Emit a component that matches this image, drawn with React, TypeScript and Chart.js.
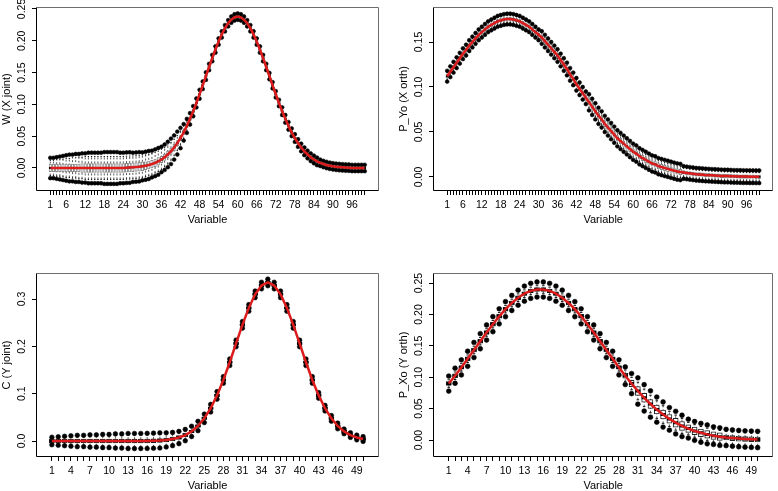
import React, { useEffect, useRef } from "react";
import { Chart, registerables } from "chart.js";

Chart.register(...registerables);

const FONT = "'Liberation Sans', Arial, Helvetica, sans-serif";

// ---------- Panel 1: W (X joint), 100 variables ----------
const wTrue = [
  0, 0, 0, 0, 0, 0, 0, 0, 0, 0,
  0, 0, 0, 0, 0, 0, 0, 0, 0, 0,
  0, 0, 0, 0, 0.0005, 0.0007, 0.001, 0.0014, 0.0019, 0.0026,
  0.0035, 0.0047, 0.0062, 0.0081, 0.0104, 0.0134, 0.0169, 0.0212, 0.0262, 0.0322,
  0.0392, 0.0471, 0.0561, 0.0662, 0.0773, 0.0893, 0.1022, 0.1159, 0.13, 0.1444,
  0.1588, 0.1728, 0.1863, 0.1988, 0.21, 0.2197, 0.2275, 0.2333, 0.2368, 0.238,
  0.2368, 0.2333, 0.2275, 0.2197, 0.21, 0.1988, 0.1863, 0.1728, 0.1588, 0.1444,
  0.13, 0.1159, 0.1022, 0.0893, 0.0773, 0.0662, 0.0561, 0.0471, 0.0392, 0.0322,
  0.0262, 0.0212, 0.0169, 0.0134, 0.0104, 0.0081, 0.0062, 0.0047, 0.0035, 0.0026,
  0.0019, 0.0014, 0.001, 0.0007, 0.0005, 0, 0, 0, 0, 0,
];
const wBox = [
  0.006, 0.006, 0.006, 0.006, 0.006, 0.006, 0.006, 0.006, 0.006, 0.006,
  0.007, 0.007, 0.007, 0.007, 0.007, 0.007, 0.007, 0.007, 0.007, 0.007,
  0.007, 0.007, 0.007, 0.007, 0.007, 0.007, 0.007, 0.007, 0.007, 0.007,
  0.006, 0.006, 0.006, 0.006, 0.006, 0.005, 0.005, 0.005, 0.005, 0.005,
  0.004, 0.004, 0.004, 0.003, 0.003, 0.003, 0.002, 0.002, 0.002, 0.002,
  0.002, 0.002, 0.002, 0.002, 0.002, 0.002, 0.002, 0.002, 0.002, 0.002,
  0.002, 0.002, 0.002, 0.002, 0.002, 0.002, 0.002, 0.002, 0.002, 0.002,
  0.002, 0.002, 0.002, 0.002, 0.002, 0.002, 0.002, 0.002, 0.002, 0.002,
  0.002, 0.002, 0.002, 0.002, 0.002, 0.002, 0.002, 0.002, 0.002, 0.002,
  0.002, 0.002, 0.002, 0.002, 0.002, 0.002, 0.002, 0.002, 0.002, 0.002,
];
const wWhisk = [
  0.012, 0.012, 0.013, 0.013, 0.014, 0.015, 0.015, 0.016, 0.016, 0.017,
  0.017, 0.018, 0.018, 0.018, 0.018, 0.018, 0.018, 0.018, 0.018, 0.018,
  0.018, 0.018, 0.018, 0.018, 0.018, 0.018, 0.018, 0.018, 0.018, 0.018,
  0.017, 0.017, 0.017, 0.016, 0.016, 0.016, 0.015, 0.015, 0.014, 0.013,
  0.012, 0.011, 0.01, 0.008, 0.007, 0.006, 0.005, 0.004, 0.004, 0.004,
  0.004, 0.004, 0.004, 0.004, 0.004, 0.004, 0.004, 0.004, 0.004, 0.004,
  0.004, 0.004, 0.004, 0.004, 0.004, 0.004, 0.004, 0.004, 0.004, 0.004,
  0.004, 0.004, 0.004, 0.004, 0.004, 0.004, 0.004, 0.004, 0.004, 0.004,
  0.004, 0.004, 0.004, 0.004, 0.004, 0.004, 0.004, 0.004, 0.004, 0.004,
  0.004, 0.004, 0.004, 0.004, 0.004, 0.004, 0.004, 0.004, 0.004, 0.004,
];
const wOut = [
  0.016, 0.016, 0.017, 0.018, 0.019, 0.02, 0.021, 0.021, 0.022, 0.022,
  0.023, 0.023, 0.024, 0.024, 0.024, 0.024, 0.024, 0.025, 0.025, 0.025,
  0.025, 0.025, 0.024, 0.024, 0.024, 0.024, 0.023, 0.023, 0.023, 0.022,
  0.022, 0.022, 0.021, 0.021, 0.021, 0.02, 0.02, 0.02, 0.02, 0.019,
  0.018, 0.016, 0.013, 0.011, 0.009, 0.008, 0.007, 0.007, 0.006, 0.006,
  0.005, 0.005, 0.005, 0.005, 0.005, 0.005, 0.005, 0.005, 0.005, 0.005,
  0.005, 0.005, 0.005, 0.005, 0.005, 0.005, 0.005, 0.005, 0.005, 0.005,
  0.005, 0.005, 0.005, 0.006, 0.006, 0.006, 0.006, 0.006, 0.006, 0.006,
  0.006, 0.006, 0.006, 0.006, 0.006, 0.005, 0.005, 0.005, 0.005, 0.005,
  0.005, 0.005, 0.005, 0.005, 0.005, 0.005, 0.005, 0.005, 0.005, 0.005,
];
const wYTicks = [0, 0.05, 0.1, 0.15, 0.2, 0.25];
const wYLabels = ["0.00", "0.05", "0.10", "0.15", "0.20", "0.25"];

// ---------- Panel 2: P_Yo (X orth), 100 variables ----------
const pyTrue = [
  0.112, 0.117, 0.122, 0.127, 0.132, 0.137, 0.141, 0.146, 0.15, 0.154,
  0.158, 0.161, 0.164, 0.167, 0.169, 0.171, 0.173, 0.174, 0.175, 0.1755,
  0.1755, 0.175, 0.174, 0.173, 0.171, 0.169, 0.167, 0.164, 0.161, 0.158,
  0.155, 0.151, 0.147, 0.143, 0.139, 0.135, 0.13, 0.125, 0.12, 0.114,
  0.109, 0.103, 0.098, 0.093, 0.088, 0.083, 0.078, 0.073, 0.068, 0.064,
  0.059, 0.055, 0.051, 0.047, 0.043, 0.04, 0.037, 0.034, 0.031, 0.028,
  0.026, 0.023, 0.021, 0.019, 0.017, 0.015, 0.014, 0.012, 0.011, 0.01,
  0.009, 0.008, 0.007, 0.006, 0.0055, 0.005, 0.0045, 0.004, 0.0035, 0.003,
  0.0028, 0.0025, 0.0022, 0.002, 0.0018, 0.0016, 0.0014, 0.0012, 0.001, 0.001,
  0.0008, 0.0007, 0.0006, 0.0005, 0.0004, 0.0004, 0.0003, 0.0003, 0.0002, 0.0002,
];
const pyBox = [
  0.002, 0.002, 0.002, 0.002, 0.002, 0.002, 0.002, 0.002, 0.002, 0.002,
  0.002, 0.002, 0.002, 0.002, 0.002, 0.002, 0.002, 0.002, 0.002, 0.002,
  0.002, 0.002, 0.002, 0.002, 0.002, 0.002, 0.002, 0.002, 0.002, 0.002,
  0.002, 0.002, 0.002, 0.002, 0.002, 0.002, 0.002, 0.002, 0.002, 0.002,
  0.002, 0.002, 0.002, 0.002, 0.003, 0.003, 0.003, 0.003, 0.003, 0.003,
  0.003, 0.003, 0.003, 0.003, 0.003, 0.003, 0.003, 0.003, 0.003, 0.003,
  0.003, 0.003, 0.003, 0.003, 0.003, 0.003, 0.003, 0.003, 0.003, 0.003,
  0.003, 0.003, 0.003, 0.003, 0.003, 0.002, 0.002, 0.002, 0.002, 0.002,
  0.002, 0.002, 0.002, 0.002, 0.002, 0.002, 0.002, 0.002, 0.002, 0.002,
  0.002, 0.002, 0.002, 0.002, 0.002, 0.002, 0.002, 0.002, 0.002, 0.002,
];
const pyWhisk = [
  0.004, 0.004, 0.004, 0.004, 0.004, 0.004, 0.004, 0.004, 0.004, 0.004,
  0.004, 0.004, 0.004, 0.004, 0.004, 0.004, 0.004, 0.004, 0.004, 0.004,
  0.004, 0.004, 0.004, 0.004, 0.004, 0.004, 0.004, 0.004, 0.004, 0.004,
  0.004, 0.004, 0.004, 0.004, 0.004, 0.004, 0.004, 0.004, 0.004, 0.004,
  0.006, 0.006, 0.006, 0.006, 0.006, 0.006, 0.006, 0.006, 0.006, 0.006,
  0.006, 0.006, 0.006, 0.006, 0.006, 0.006, 0.006, 0.006, 0.006, 0.006,
  0.006, 0.006, 0.006, 0.006, 0.006, 0.006, 0.006, 0.006, 0.006, 0.006,
  0.006, 0.006, 0.006, 0.006, 0.006, 0.005, 0.005, 0.005, 0.005, 0.005,
  0.005, 0.005, 0.005, 0.005, 0.005, 0.005, 0.005, 0.005, 0.005, 0.005,
  0.005, 0.005, 0.005, 0.005, 0.005, 0.005, 0.005, 0.005, 0.005, 0.005,
];
const pyOut = [
  0.006, 0.006, 0.006, 0.006, 0.006, 0.006, 0.006, 0.006, 0.006, 0.006,
  0.006, 0.006, 0.006, 0.006, 0.006, 0.006, 0.006, 0.006, 0.006, 0.006,
  0.006, 0.006, 0.006, 0.006, 0.006, 0.006, 0.006, 0.006, 0.006, 0.006,
  0.007, 0.007, 0.007, 0.007, 0.007, 0.007, 0.007, 0.007, 0.007, 0.007,
  0.007, 0.007, 0.007, 0.007, 0.007, 0.009, 0.009, 0.009, 0.009, 0.009,
  0.009, 0.009, 0.009, 0.009, 0.009, 0.009, 0.009, 0.009, 0.009, 0.009,
  0.009, 0.009, 0.009, 0.009, 0.009, 0.009, 0.009, 0.009, 0.009, 0.009,
  0.009, 0.009, 0.009, 0.009, 0.009, 0.007, 0.007, 0.007, 0.007, 0.007,
  0.007, 0.007, 0.007, 0.007, 0.007, 0.007, 0.007, 0.007, 0.007, 0.007,
  0.007, 0.007, 0.007, 0.007, 0.007, 0.007, 0.007, 0.007, 0.007, 0.007,
];
const pyYTicks = [0, 0.05, 0.1, 0.15];
const pyYLabels = ["0.00", "0.05", "0.10", "0.15"];

// ---------- Panel 3: C (Y joint), 50 variables ----------
const cTrue = [
  0, 0, 0, 0, 0, 0, 0, 0, 0, 0,
  0, 0, 0, 0, 0, 0.0002, 0.0006, 0.0012, 0.0023, 0.0042,
  0.0074, 0.0125, 0.0203, 0.0318, 0.0479, 0.0693, 0.0964, 0.129, 0.1664, 0.2061,
  0.2455, 0.2812, 0.3099, 0.3285, 0.335, 0.3285, 0.3099, 0.2812, 0.2455, 0.2061,
  0.1664, 0.129, 0.0964, 0.0693, 0.0479, 0.0318, 0.0203, 0.0125, 0.0074, 0.0042,
];
const cBox = [
  0.004, 0.004, 0.004, 0.004, 0.004, 0.004, 0.004, 0.004, 0.004, 0.004,
  0.004, 0.004, 0.004, 0.004, 0.004, 0.004, 0.004, 0.004, 0.004, 0.004,
  0.004, 0.004, 0.002, 0.002, 0.002, 0.002, 0.002, 0.002, 0.002, 0.002,
  0.002, 0.002, 0.002, 0.002, 0.002, 0.002, 0.002, 0.002, 0.002, 0.002,
  0.002, 0.002, 0.002, 0.002, 0.002, 0.002, 0.002, 0.002, 0.002, 0.002,
];
const cWhisk = [
  0.005, 0.006, 0.007, 0.008, 0.009, 0.009, 0.01, 0.01, 0.011, 0.011,
  0.012, 0.012, 0.013, 0.013, 0.013, 0.013, 0.013, 0.013, 0.012, 0.011,
  0.01, 0.009, 0.008, 0.007, 0.006, 0.005, 0.005, 0.005, 0.005, 0.005,
  0.005, 0.005, 0.005, 0.005, 0.005, 0.005, 0.005, 0.005, 0.005, 0.005,
  0.004, 0.004, 0.004, 0.004, 0.004, 0.004, 0.004, 0.004, 0.004, 0.004,
];
const cOut = [
  0.008, 0.009, 0.01, 0.011, 0.012, 0.012, 0.013, 0.013, 0.014, 0.014,
  0.015, 0.015, 0.016, 0.016, 0.016, 0.016, 0.016, 0.016, 0.015, 0.014,
  0.013, 0.012, 0.011, 0.01, 0.009, 0.008, 0.008, 0.007, 0.007, 0.007,
  0.007, 0.007, 0.007, 0.007, 0.007, 0.007, 0.007, 0.007, 0.007, 0.007,
  0.007, 0.007, 0.006, 0.006, 0.006, 0.006, 0.005, 0.005, 0.005, 0.005,
];
const cYTicks = [0, 0.1, 0.2, 0.3];
const cYLabels = ["0.0", "0.1", "0.2", "0.3"];

// ---------- Panel 4: P_Xo (Y orth), 50 variables ----------
const xoTrue = [
  0.0899, 0.1024, 0.1157, 0.1294, 0.1434, 0.1574, 0.1712, 0.1845, 0.197, 0.2084,
  0.2183, 0.2267, 0.2331, 0.2375, 0.2397, 0.2397, 0.2375, 0.2331, 0.2267, 0.2183,
  0.2084, 0.197, 0.1845, 0.1712, 0.1574, 0.1434, 0.1294, 0.1157, 0.1024, 0.0899,
  0.0781, 0.0672, 0.0574, 0.0485, 0.0406, 0.0337, 0.0277, 0.0225, 0.0182, 0.0145,
  0.0115, 0.009, 0.007, 0.0054, 0.0041, 0.0031, 0.0023, 0.0017, 0.0013, 0.0009,
];
const xoBox = [
  0.003, 0.003, 0.003, 0.003, 0.003, 0.003, 0.003, 0.003, 0.003, 0.003,
  0.003, 0.003, 0.003, 0.003, 0.003, 0.003, 0.003, 0.003, 0.003, 0.003,
  0.003, 0.003, 0.003, 0.003, 0.003, 0.003, 0.003, 0.003, 0.004, 0.005,
  0.007, 0.007, 0.007, 0.007, 0.007, 0.007, 0.007, 0.007, 0.006, 0.006,
  0.006, 0.006, 0.006, 0.006, 0.004, 0.004, 0.004, 0.004, 0.004, 0.004,
];
const xoWhisk = [
  0.006, 0.006, 0.006, 0.006, 0.006, 0.006, 0.006, 0.006, 0.006, 0.006,
  0.006, 0.006, 0.006, 0.006, 0.006, 0.006, 0.006, 0.006, 0.006, 0.006,
  0.006, 0.006, 0.006, 0.006, 0.006, 0.006, 0.006, 0.006, 0.009, 0.01,
  0.014, 0.014, 0.014, 0.014, 0.014, 0.012, 0.012, 0.012, 0.01, 0.01,
  0.01, 0.01, 0.01, 0.01, 0.01, 0.01, 0.01, 0.01, 0.01, 0.01,
];
const xoOut = [
  0.012, 0.012, 0.012, 0.012, 0.012, 0.012, 0.012, 0.012, 0.012, 0.012,
  0.012, 0.012, 0.012, 0.012, 0.012, 0.012, 0.012, 0.012, 0.012, 0.012,
  0.012, 0.012, 0.012, 0.012, 0.012, 0.012, 0.012, 0.012, 0.014, 0.016,
  0.021, 0.021, 0.021, 0.02, 0.02, 0.018, 0.018, 0.017, 0.015, 0.015,
  0.015, 0.015, 0.014, 0.014, 0.013, 0.013, 0.013, 0.013, 0.013, 0.013,
];
const xoYTicks = [0, 0.05, 0.1, 0.15, 0.2, 0.25];
const xoYLabels = ["0.00", "0.05", "0.10", "0.15", "0.20", "0.25"];

// ---------- x axis labels ----------
const xLabels100 = [1, 6, 12, 18, 24, 30, 36, 42, 48, 54, 60, 66, 72, 78, 84, 90, 96];
const xLabels50 = [1, 4, 7, 10, 13, 16, 19, 22, 25, 28, 31, 34, 37, 40, 43, 46, 49];
const xTitle = "Variable";

type PanelDef = {
  yTitle: string;
  center: number[];
  box: number[];
  whisk: number[];
  out: number[];
  xLabels: number[];
  yTicks: number[];
  yLabels: string[];
  yMin: number;
  yMax: number;
  left: number;
  top: number;
  width: number;
  padRight: number;
  yLabelPad: number;
  boxPx: number;
  boxColor: string;
  dotR: number;
  medW: number;
};

const PANELS: PanelDef[] = [
  {
    yTitle: "W (X joint)", center: wTrue, box: wBox, whisk: wWhisk, out: wOut,
    xLabels: xLabels100, yTicks: wYTicks, yLabels: wYLabels, yMin: -0.0362, yMax: 0.2531,
    left: 0, top: 0, width: 389, padRight: 10, yLabelPad: 0,
    boxPx: 2.5, boxColor: "#8a8a8a", dotR: 1.9, medW: 2,
  },
  {
    yTitle: "P_Yo (X orth)", center: pyTrue, box: pyBox, whisk: pyWhisk, out: pyOut,
    xLabels: xLabels100, yTicks: pyYTicks, yLabels: pyYLabels, yMin: -0.0156, yMax: 0.1889,
    left: 397, top: 0, width: 381, padRight: 3, yLabelPad: 0,
    boxPx: 2.5, boxColor: "#8a8a8a", dotR: 1.9, medW: 2,
  },
  {
    yTitle: "C (Y joint)", center: cTrue, box: cBox, whisk: cWhisk, out: cOut,
    xLabels: xLabels50, yTicks: cYTicks, yLabels: cYLabels, yMin: -0.0338, yMax: 0.355,
    left: 0, top: 266, width: 389, padRight: 10, yLabelPad: 3,
    boxPx: 5, boxColor: "#222", dotR: 2.3, medW: 3,
  },
  {
    yTitle: "P_Xo (Y orth)", center: xoTrue, box: xoBox, whisk: xoWhisk, out: xoOut,
    xLabels: xLabels50, yTicks: xoYTicks, yLabels: xoYLabels, yMin: -0.027, yMax: 0.266,
    left: 397, top: 266, width: 381, padRight: 3, yLabelPad: 0,
    boxPx: 5, boxColor: "#222", dotR: 2.4, medW: 3,
  },
];

const CANVAS_H = 245;
const PLOT_TOP = 7;
const PLOT_H = 184;
const X_AXIS_H = 36;
const Y_AXIS_W = 36;

const framePlugin = {
  id: "rframe",
  afterDatasetsDraw(chart: any) {
    const { ctx, chartArea } = chart;
    const l = Math.round(chartArea.left) + 0.5;
    const r = Math.round(chartArea.right) - 0.5;
    const t = Math.round(chartArea.top) + 0.5;
    const b = Math.round(chartArea.bottom) - 0.5;
    ctx.save();
    ctx.lineWidth = 1;
    ctx.strokeStyle = "#6e6e6e";
    ctx.beginPath();
    ctx.moveTo(l, t);
    ctx.lineTo(r, t);
    ctx.lineTo(r, b);
    ctx.stroke();
    ctx.strokeStyle = "#000";
    ctx.beginPath();
    ctx.moveTo(l, t);
    ctx.lineTo(l, b);
    ctx.lineTo(r, b);
    ctx.stroke();
    ctx.restore();
  },
};

function makeConfig(p: PanelDef): any {
  const n = p.center.length;
  const xs = p.center.map((_, i) => i + 1);
  const whiskers: any[] = [];
  const caps: any[] = [];
  const meds: any[] = [];
  const dots: any[] = [];
  const boxes: any[] = [];
  const line: any[] = [];
  xs.forEach((x, i) => {
    const c = p.center[i];
    const w = p.whisk[i];
    const o = p.out[i];
    const b = p.box[i];
    whiskers.push({ x, y: c - w }, { x, y: c + w }, { x, y: null });
    caps.push(
      { x: x - 0.2, y: c - w }, { x: x + 0.2, y: c - w }, { x, y: null },
      { x: x - 0.2, y: c + w }, { x: x + 0.2, y: c + w }, { x, y: null }
    );
    meds.push({ x: x - 0.4, y: c }, { x: x + 0.4, y: c }, { x, y: null });
    dots.push({ x, y: c - o }, { x, y: c + o });
    boxes.push({ x, y: [c - b, c + b] });
    line.push({ x, y: c });
  });
  const labelSet = new Set(p.xLabels);
  const tickFont = { family: FONT, size: 10.5 };
  const titleFont = { family: FONT, size: 11 };

  return {
    type: "bar",
    data: {
      datasets: [
        {
          type: "line", data: whiskers, borderColor: "#555", borderWidth: 1,
          borderDash: [2, 2], pointRadius: 0, spanGaps: false, order: 5,
        },
        {
          type: "line", data: caps, borderColor: "#111", borderWidth: 1,
          pointRadius: 0, spanGaps: false, order: 4,
        },
        {
          type: "bar", data: boxes, backgroundColor: "#fff", borderColor: p.boxColor,
          borderWidth: 1, borderSkipped: false, barThickness: p.boxPx, order: 3,
        },
        {
          type: "line", data: meds, borderColor: "#000", borderWidth: p.medW,
          pointRadius: 0, spanGaps: false, order: 2,
        },
        {
          type: "line", data: dots, showLine: false, pointRadius: p.dotR,
          pointBackgroundColor: "#000", pointBorderColor: "#000", pointBorderWidth: 0.6, order: 1,
        },
        {
          type: "line", data: line, borderColor: "rgb(220,28,28)", borderWidth: 2.5,
          pointRadius: 0, tension: 0, order: 0,
        },
      ],
    },
    options: {
      animation: false,
      responsive: false,
      maintainAspectRatio: false,
      devicePixelRatio: 1,
      events: [],
      layout: {
        padding: {
          left: 0,
          top: PLOT_TOP,
          right: p.padRight,
          bottom: CANVAS_H - PLOT_TOP - PLOT_H - X_AXIS_H,
        },
      },
      plugins: { legend: { display: false }, tooltip: { enabled: false } },
      scales: {
        x: {
          type: "linear",
          min: 0.5 - 0.04 * n,
          max: n + 0.5 + 0.04 * n,
          offset: false,
          afterBuildTicks: (s: any) => {
            s.ticks = xs.map((v) => ({ value: v }));
          },
          afterFit: (s: any) => {
            s.height = X_AXIS_H;
            s.paddingLeft = 0;
            s.paddingRight = 0;
          },
          ticks: {
            autoSkip: false, maxRotation: 0, minRotation: 0, padding: 4,
            color: "#000", font: tickFont,
            callback: (v: number) => (labelSet.has(v) ? String(v) : ""),
          },
          grid: {
            display: true, drawOnChartArea: false, drawTicks: true, tickLength: 4,
            color: "#000", tickColor: "#000", offset: false,
          },
          border: { display: false },
          title: {
            display: true, text: xTitle, color: "#000", font: titleFont,
            padding: { top: 0, bottom: 0 },
          },
        },
        y: {
          type: "linear",
          min: p.yMin,
          max: p.yMax,
          afterBuildTicks: (s: any) => {
            s.ticks = p.yTicks.map((v) => ({ value: v }));
          },
          afterFit: (s: any) => {
            s.width = Y_AXIS_W;
            s.paddingTop = 0;
            s.paddingBottom = 0;
          },
          ticks: {
            autoSkip: false, minRotation: 90, maxRotation: 90, crossAlign: "center",
            padding: p.yLabelPad, color: "#000", font: tickFont,
            callback: (_v: number, i: number) => p.yLabels[i],
          },
          grid: {
            display: true, drawOnChartArea: false, drawTicks: true, tickLength: 4,
            color: "#000", tickColor: "#000",
          },
          border: { display: false },
          title: {
            display: true, text: p.yTitle, color: "#000", font: titleFont,
            padding: { top: 0, bottom: 0 },
          },
        },
      },
    },
    plugins: [framePlugin],
  };
}

function PanelChart({ p }: { p: PanelDef }) {
  const ref = useRef<HTMLCanvasElement | null>(null);
  useEffect(() => {
    if (!ref.current) return;
    const chart = new Chart(ref.current, makeConfig(p));
    return () => chart.destroy();
  }, [p]);
  return (
    <canvas
      ref={ref}
      width={p.width}
      height={CANVAS_H}
      style={{
        position: "absolute",
        left: p.left,
        top: p.top,
        width: p.width,
        height: CANVAS_H,
      }}
    />
  );
}

export default function App() {
  return (
    <div
      style={{
        position: "fixed",
        left: 0,
        top: 0,
        width: 778,
        height: 491,
        overflow: "hidden",
        background: "#fff",
      }}
    >
      {PANELS.map((p, i) => (
        <PanelChart key={i} p={p} />
      ))}
    </div>
  );
}
